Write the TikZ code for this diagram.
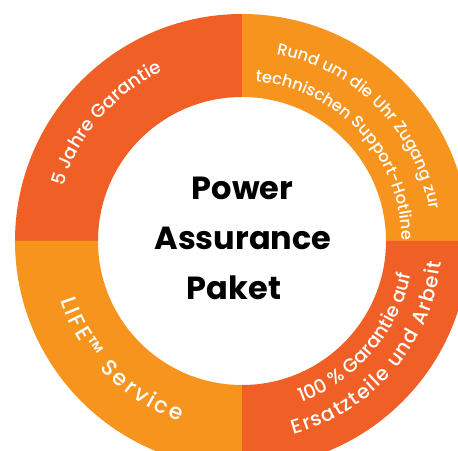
\documentclass[tikz,border=0pt]{standalone}
\usepackage{fontspec}
\setmainfont{Poppins}
\IfFontExistsTF{Poppins Medium}{\newfontfamily\ringfont{Poppins Medium}}{\newfontfamily\ringfont{Poppins}[FakeBold=1.2]}
\usetikzlibrary{decorations.text}
\definecolor{darkor}{RGB}{240,96,38}
\definecolor{lightor}{RGB}{247,148,30}
\tikzset{
  ringtext/.style={decorate, decoration={text along path, text align=center, #1}},
  ringfit/.style={decorate, decoration={text along path, text align={fit to path}, #1}},
  titletext/.style={anchor=base, text=black, font=\bfseries\fontsize{32}{40}\selectfont, inner sep=0pt},
}
\newcommand{\rta}{\ringfont\fontsize{18.5}{20}\selectfont\color{white}}
\newcommand{\rt}{\ringfont\fontsize{16.3}{20}\selectfont\color{white}}
\newcommand{\rtb}{\ringfont\fontsize{19}{22}\selectfont\color{white}}
\newcommand{\rtc}{\ringfont\fontsize{20}{22}\selectfont\color{white}}
\newcommand{\rtd}{\ringfont\fontsize{22}{24}\selectfont\color{white}}
\begin{document}
\begin{tikzpicture}[x=1pt,y=1pt]
\useasboundingbox (0,0) rectangle (458,450);
\fill[white] (0,0) rectangle (458,450);
\coordinate (c) at (242,209);
\begin{scope}
\clip (0,0) rectangle (458,450);
\fill[darkor] ([shift={(90:227)}]c) arc[start angle=90,end angle=180,radius=227]
  -- ([shift={(180:144)}]c) arc[start angle=180,end angle=90,radius=144] -- cycle;
\fill[lightor] ([shift={(0:227)}]c) arc[start angle=0,end angle=90,radius=227]
  -- ([shift={(90:144)}]c) arc[start angle=90,end angle=0,radius=144] -- cycle;
\fill[lightor] ([shift={(180:227)}]c) arc[start angle=180,end angle=270,radius=227]
  -- ([shift={(270:144)}]c) arc[start angle=270,end angle=180,radius=144] -- cycle;
\fill[darkor] ([shift={(270:227)}]c) arc[start angle=270,end angle=360,radius=227]
  -- ([shift={(0:144)}]c) arc[start angle=360,end angle=270,radius=144] -- cycle;
\end{scope}
% curved texts
\path[ringtext={text={|\rta|5 Jahre Garantie}}]
  ([shift={(175:187)}]c) arc[start angle=175,end angle=103,radius=187];
\path[ringtext={text={|\rt|Rund um die Uhr Zugang zur}}]
  ([shift={(100:190)}]c) arc[start angle=100,end angle=-11,radius=190];
\path[ringtext={text={|\rt|technischen Support-Hotline}}]
  ([shift={(105:160)}]c) arc[start angle=105,end angle=-19.5,radius=160];
\path[ringfit={text={|\rtd|LIFE{\texttrademark} Service}}]
  ([shift={(198:191)}]c) arc[start angle=198,end angle=251,radius=191];
\path[ringtext={text={|\rtb|100 {\%} Garantie auf}}]
  ([shift={(280:172)}]c) arc[start angle=280,end angle=359,radius=172];
\path[ringfit={text={|\rtc|Ersatzteile und Arbeit}}]
  ([shift={(285:200)}]c) arc[start angle=285,end angle=354,radius=200];
% title
\node[titletext] (t1) at (242.5,250) {Power};
\node[titletext] (t2) at (243,200) {Assurance};
\node[titletext] (t3) at (234,150) {Paket};
\end{tikzpicture}
\end{document}
